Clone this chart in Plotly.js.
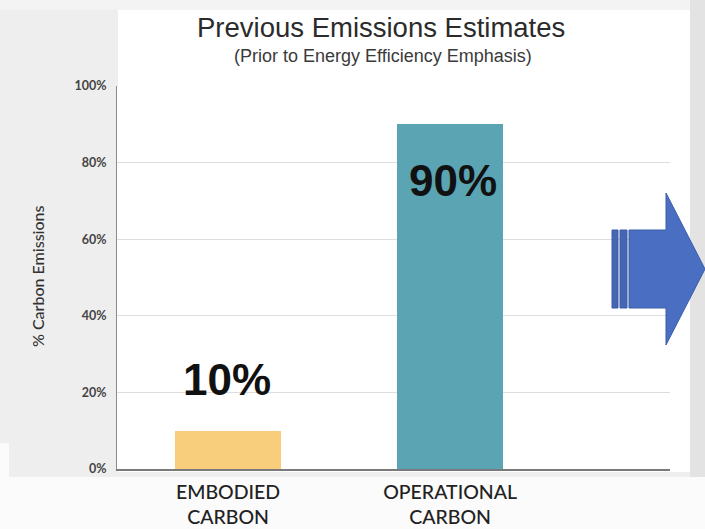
<!DOCTYPE html>
<html>
<head>
<meta charset="utf-8">
<script src="https://cdn.plot.ly/plotly-3.0.1.min.js"></script>
<style>
  html, body { margin: 0; padding: 0; background: #ededed; }
  #chart { width: 705px; height: 529px; }
</style>
</head>
<body>
<div id="chart"></div>
<script>
// Share of lifetime carbon emissions by source
const categories = ['EMBODIED<br>CARBON', 'OPERATIONAL<br>CARBON'];
const shares = [10, 90];
const barColors = ['#f8cd7c', '#5aa4b4'];

const chartTitle = 'Previous Emissions Estimates';
const chartSubtitle = '(Prior to Energy Efficiency Emphasis)';
const yTitle = '% Carbon Emissions';

// Page geometry (pixels)
const W = 705, H = 529;
const M = { l: 117, r: 35, t: 86, b: 60 };
const plotW = W - M.l - M.r;
const plotH = H - M.t - M.b;
// pixel -> paper coordinate helpers for decorations
const px = x => (x - M.l) / plotW;
const py = y => (H - M.b - y) / plotH;

const trace = {
  type: 'bar',
  x: categories,
  y: shares,
  width: 0.477,
  marker: { color: barColors, line: { width: 0 } },
  hoverinfo: 'skip'
};

// Value labels on the bars
const labelShift = [51, -56];
const valueLabels = shares.map((v, i) => ({
  x: categories[i], y: v, xref: 'x', yref: 'y',
  text: v + '%', showarrow: false,
  yanchor: 'middle', yshift: labelShift[i], xshift: i === 0 ? -1 : 3,
  font: { family: 'Liberation Sans, Arial, sans-serif', size: 44, color: '#111', weight: 'bold' }
}));

const annotations = valueLabels.concat([
  { xref: 'paper', yref: 'paper', x: px(381), y: py(27), xanchor: 'center', yanchor: 'middle',
    text: chartTitle, showarrow: false,
    font: { family: 'Liberation Sans, Arial, sans-serif', size: 27.5, color: '#2b2b2b' } },
  { xref: 'paper', yref: 'paper', x: px(383), y: py(56), xanchor: 'center', yanchor: 'middle',
    text: chartSubtitle, showarrow: false,
    font: { family: 'Liberation Sans, Arial, sans-serif', size: 18, color: '#3a3a3a' } },
  { xref: 'paper', yref: 'paper', x: px(37), y: py(276), xanchor: 'center', yanchor: 'middle',
    text: yTitle, textangle: -90, showarrow: false,
    font: { family: 'Lato, sans-serif', size: 16, color: '#333', weight: 500 } }
]);

// Slide-style panels behind the chart, plus the blue arrow on the right
const rect = (x0, y0, x1, y1, color) => ({
  type: 'rect', xref: 'paper', yref: 'paper', layer: 'below',
  x0: px(x0), x1: px(x1), y0: py(y1), y1: py(y0),
  fillcolor: color, line: { width: 0 }
});
const poly = (pts, color, lineColor) => ({
  type: 'path', xref: 'paper', yref: 'paper', layer: 'above',
  path: 'M ' + pts.map(p => px(p[0]) + ',' + py(p[1])).join(' L ') + ' Z',
  fillcolor: color, line: { color: lineColor || color, width: 1 }
});

const shapes = [
  rect(0, 0, 705, 10, '#f3f3f3'),
  rect(690, 0, 705, 477, '#e3e3e3'),
  rect(0, 443, 9, 529, '#fbfbfb'),
  rect(0, 477, 705, 529, '#fbfbfb'),
  rect(118, 10, 690, 472, '#ffffff'),
  // arrow stripes
  poly([[612, 230], [618, 230], [618, 308], [612, 308]], '#4466b4', '#3b5ba6'),
  poly([[620, 230], [627, 230], [627, 308], [620, 308]], '#4466b4', '#3b5ba6'),
  // arrow body + head
  poly([[629, 230], [666, 230], [666, 193], [705, 269], [666, 345], [666, 308], [629, 308]], '#4a6fc2', '#3b5ca8')
];

const layout = {
  width: W, height: H,
  margin: M,
  paper_bgcolor: '#eeeeee',
  plot_bgcolor: '#ffffff',
  showlegend: false,
  font: { family: 'Lato, sans-serif', color: '#333' },
  xaxis: {
    type: 'category',
    range: [-0.5, 1.99],
    showgrid: false,
    showline: true, linecolor: '#7a7a7a', linewidth: 1.5,
    ticks: '', zeroline: false,
    ticklabelstandoff: 5,
    tickfont: { family: 'Lato, sans-serif', size: 19.5, color: '#222', weight: 500 },
    fixedrange: true
  },
  yaxis: {
    range: [0, 100],
    dtick: 20, tick0: 0,
    ticksuffix: '%',
    showgrid: true, gridcolor: '#dddddd', gridwidth: 1,
    showline: true, linecolor: '#8a8a8a', linewidth: 1,
    ticks: '', zeroline: false,
    ticklabelstandoff: 7,
    tickfont: { family: 'Lato, sans-serif', size: 12.5, color: '#444', weight: 'bold' },
    fixedrange: true
  },
  annotations: annotations,
  shapes: shapes,
  bargap: 0
};

Plotly.newPlot('chart', [trace], layout, { displayModeBar: false, staticPlot: true });
</script>
</body>
</html>
